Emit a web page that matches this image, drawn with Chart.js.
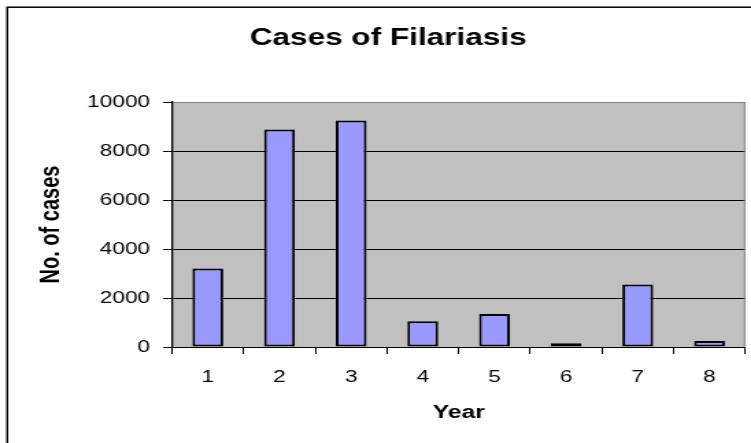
<!DOCTYPE html>
<html>
<head>
<meta charset="utf-8">
<script src="https://cdn.jsdelivr.net/npm/chart.js@4"></script>
<style>
  html, body { margin: 0; padding: 0; background: #fff; overflow: hidden; }
  #wrap { width: 548px; height: 443px; transform: scaleX(1.3705); transform-origin: 0 0; }
  canvas { display: block; }
</style>
</head>
<body>
<div id="wrap"><canvas id="c" width="548" height="443"></canvas></div>
<script>
// Data
const categories = ['1', '2', '3', '4', '5', '6', '7', '8'];
const cases = [3200, 8880, 9250, 1050, 1350, 150, 2550, 250];
const yTickValues = [0, 2000, 4000, 6000, 8000, 10000];
const chartTitle = 'Cases of Filariasis';
const xTitle = 'Year';
const yTitle = 'No. of cases';

const FONT = '"Liberation Sans", Arial, Helvetica, sans-serif';

const decor = {
  id: 'decor',
  beforeDraw(chart) {
    const { ctx, chartArea: a } = chart;
    ctx.save();
    ctx.fillStyle = '#C0C0C0';
    ctx.fillRect(a.left, a.top, a.right - a.left, a.bottom - a.top);
    // outer frame (extends beyond visible area on right/bottom)
    ctx.strokeStyle = '#000';
    ctx.lineWidth = 1.5;
    ctx.strokeRect(5.3, 7.2, chart.width + 20, chart.height + 20);
    // title
    ctx.fillStyle = '#000';
    ctx.font = 'bold 23px ' + FONT;
    ctx.textAlign = 'center';
    ctx.textBaseline = 'middle';
    ctx.fillText(chartTitle, 283.2, 39);
    ctx.restore();
  },
  beforeDatasetsDraw(chart) {
    const { ctx, chartArea: a } = chart;
    ctx.save();
    ctx.strokeStyle = '#808080';
    ctx.lineWidth = 1;
    ctx.beginPath();
    ctx.moveTo(a.right - 0.5, a.top);
    ctx.lineTo(a.right - 0.5, a.bottom);
    ctx.stroke();
    ctx.restore();
  }
};

new Chart(document.getElementById('c'), {
  type: 'bar',
  data: {
    labels: categories,
    datasets: [{
      label: yTitle,
      data: cases,
      backgroundColor: '#9999FF',
      borderColor: '#000',
      borderWidth: 2,
      borderSkipped: false,
      barPercentage: 0.43,
      categoryPercentage: 1.0
    }]
  },
  options: {
    responsive: false,
    animation: false,
    devicePixelRatio: 1,
    layout: { padding: { left: 0, top: 102, right: 4.2, bottom: 0 } },
    plugins: {
      legend: { display: false },
      title: { display: false },
      tooltip: { enabled: false }
    },
    scales: {
      x: {
        offset: true,
        grid: { drawOnChartArea: false, drawTicks: true, tickLength: 7, color: '#000', tickColor: '#000' },
        border: { color: '#000', width: 1 },
        ticks: { color: '#000', padding: 14, font: { family: FONT, size: 16.5 } },
        title: { display: true, text: xTitle, color: '#000', font: { family: FONT, size: 18, weight: 'bold' }, padding: { top: 0, bottom: 19.2 } },
        afterFit(scale) { scale.height = 96; }
      },
      y: {
        min: yTickValues[0],
        max: yTickValues[yTickValues.length - 1],
        afterBuildTicks(scale) { scale.ticks = yTickValues.map(v => ({ value: v })); },
        ticks: { color: '#000', padding: 9.5, font: { family: FONT, size: 16.5 }, callback: (v) => String(v) },
        grid: {
          color: (c) => (c.tick && c.tick.value === 10000) ? '#808080' : '#000',
          tickColor: '#000',
          tickLength: 6.5,
          lineWidth: 1
        },
        border: { color: '#000', width: 1.3 },
        title: { display: true, text: yTitle, color: '#000', font: { family: FONT, size: 20, weight: 'bold' }, padding: { top: 25.2, bottom: 0 } },
        afterFit(scale) { scale.width = 125.5; }
      }
    }
  },
  plugins: [decor]
});
</script>
</body>
</html>
